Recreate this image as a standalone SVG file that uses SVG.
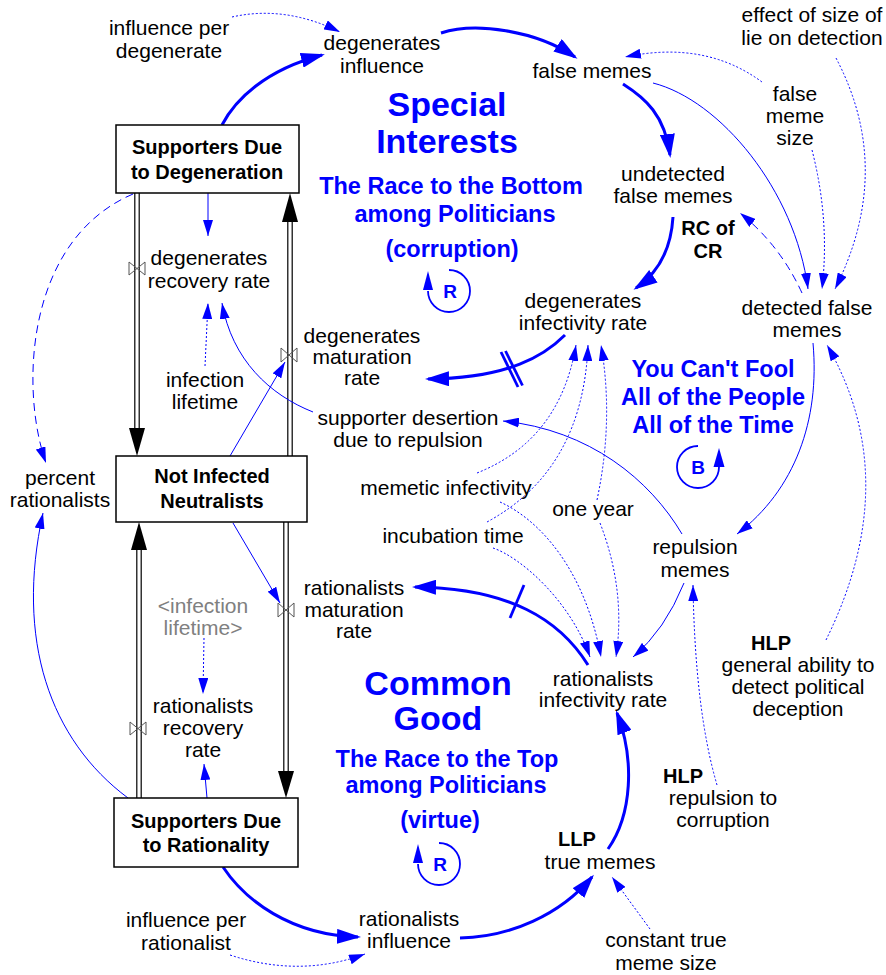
<svg xmlns="http://www.w3.org/2000/svg" width="886" height="975" viewBox="0 0 886 975">
<defs>
<style>
text { font-family: "Liberation Sans", Arial, sans-serif; }
.t { font-size: 21px; fill: #000; text-anchor: middle; }
.g { font-size: 21px; fill: #808080; text-anchor: middle; }
.k { font-size: 20px; font-weight: bold; fill: #000; text-anchor: middle; }
.h1 { font-size: 34px; font-weight: bold; fill: #0000ff; text-anchor: middle; }
.h2 { font-size: 23.5px; font-weight: bold; fill: #0000ff; text-anchor: middle; }
.lp { font-size: 19px; font-weight: bold; fill: #0000ff; text-anchor: middle; }
.stock { fill: #fff; stroke: #000; stroke-width: 1.5; }
.pipeo { fill: none; stroke: #333; stroke-width: 6; }
.pipei { fill: none; stroke: #fff; stroke-width: 3; }
.pa { fill: #000; }
.valve { fill: none; stroke: #555; stroke-width: 1; }
.thick { fill: none; stroke: #0000ff; stroke-width: 3; marker-end: url(#AH); }
.thin { fill: none; stroke: #0000ff; stroke-width: 1; marker-end: url(#ah); }
.dot { stroke-dasharray: 2 2; }
.dash { stroke-dasharray: 8 5; }
.loop { fill: none; stroke: #0000ff; stroke-width: 1.8; }
.la { fill: #0000ff; }
.hash { stroke: #0000ff; stroke-width: 2.8; }
</style>
<marker id="ah" markerUnits="userSpaceOnUse" markerWidth="16" markerHeight="10" refX="16" refY="5" orient="auto" viewBox="0 0 16 10"><path d="M0,0 L16,5 L0,10 z" fill="#0000ff"/></marker>
<marker id="AH" markerUnits="userSpaceOnUse" markerWidth="24" markerHeight="15" refX="21" refY="7.5" orient="auto" viewBox="0 0 24 15"><path d="M0,0 L24,7.5 L0,15 z" fill="#0000ff"/></marker>
</defs>
<rect x="0" y="0" width="886" height="975" fill="#fff"/>

<g id="flows">
  <path class="pipeo" d="M137 193 L137 430"/><path class="pipei" d="M137 193 L137 430"/>
  <polygon class="pa" points="137,456 129,428 145,428"/>
  <path class="pipeo" d="M290 456 L290 220"/><path class="pipei" d="M290 456 L290 220"/>
  <polygon class="pa" points="290,193 282,222 298,222"/>
  <path class="pipeo" d="M139 798 L139 548"/><path class="pipei" d="M139 798 L139 548"/>
  <polygon class="pa" points="139,522 131,550 147,550"/>
  <path class="pipeo" d="M286 522 L286 773"/><path class="pipei" d="M286 522 L286 773"/>
  <polygon class="pa" points="286,798 278,771 294,771"/>
  <path class="valve" d="M129 262 L145 275 L145 262 L129 275 Z"/>
  <path class="valve" d="M281 348 L297 362 L297 348 L281 362 Z"/>
  <path class="valve" d="M130 722 L146 735 L146 722 L130 735 Z"/>
  <path class="valve" d="M278 603 L294 617 L294 603 L278 617 Z"/>
</g>

<g id="connectors">
  <path class="thick" d="M222 125 C235 100 265 70 322 55"/>
  <path class="thick" d="M441 33 C475 22 535 30 575 57"/>
  <path class="thick" d="M623 84 C645 98 665 115 670 155"/>
  <path class="thick" d="M673 217 Q670 265 636 288"/>
  <path class="thick" d="M565 335 C545 355 510 378 428 379"/>
  <line class="hash" x1="501" y1="352" x2="518" y2="387"/>
  <line class="hash" x1="505.5" y1="351" x2="522.5" y2="385.5"/>
  <path class="thick" d="M588 665 C560 620 510 588 415 587"/>
  <line class="hash" x1="510" y1="618" x2="524" y2="585"/>
  <path class="thick" d="M608 849 C632 815 635 760 617 713"/>
  <path class="thick" d="M223 867 C245 900 290 935 358 937"/>
  <path class="thick" d="M460 938 C510 937 560 915 592 877"/>

  <path class="thin" d="M208 193 L208 236"/>
  <path class="thin" d="M313 412 C270 395 232 360 222 303"/>
  <path class="thin" d="M230 456 L285 362"/>
  <path class="thin" d="M233 523 L280 603"/>
  <path class="thin" d="M682 534 C650 480 590 430 503 421"/>
  <path class="thin" d="M813 343 C820 420 795 490 737 534"/>
  <path class="thin" d="M684 583 Q665 630 633 657"/>
  <path class="thin" d="M653 83 C720 100 795 190 808 289"/>
  <path class="thin" d="M128 798 C50 740 15 640 43 513"/>
  <path class="thin" d="M207 798 L204 764"/>

  <path class="thin dash" d="M133 194 C25 240 20 390 46 463"/>
  <path class="thin dash" d="M802 293 Q780 245 740 213"/>

  <path class="thin dot" d="M232 17 Q285 5 340 32"/>
  <path class="thin dot" d="M230 955 Q300 978 365 954"/>
  <path class="thin dot" d="M836 58 Q895 170 835 289"/>
  <path class="thin dot" d="M812 150 Q830 220 822 289"/>
  <path class="thin dot" d="M762 82 Q705 40 625 57"/>
  <path class="thin dot" d="M826 640 Q905 480 827 345"/>
  <path class="thin dot" d="M717 785 Q695 710 693 585"/>
  <path class="thin dot" d="M650 929 L612 877"/>
  <path class="thin dot" d="M477 473 Q560 440 576 345"/>
  <path class="thin dot" d="M487 522 Q583 470 588 345"/>
  <path class="thin dot" d="M597 500 Q614 420 601 345"/>
  <path class="thin dot" d="M500 502 C540 520 585 570 601 657"/>
  <path class="thin dot" d="M493 548 C520 557 570 600 590 657"/>
  <path class="thin dot" d="M600 523 Q626 590 616 657"/>
  <path class="thin dot" d="M205 366 L208 303"/>
  <path class="thin dot" d="M204 638 L203 694"/>
</g>

<g id="supporters-degeneration">
  <rect class="stock" x="116" y="125" width="183" height="68"/>
  <text class="k" x="207" y="154">Supporters Due</text>
  <text class="k" x="207" y="179">to Degeneration</text>
</g>
<g id="not-infected-neutralists">
  <rect class="stock" x="116" y="456" width="191" height="66"/>
  <text class="k" x="212" y="483">Not Infected</text>
  <text class="k" x="212" y="508">Neutralists</text>
</g>
<g id="supporters-rationality">
  <rect class="stock" x="114" y="798" width="184" height="69"/>
  <text class="k" x="206" y="828">Supporters Due</text>
  <text class="k" x="206" y="852">to Rationality</text>
</g>

<g id="influence-per-degenerate"><text class="t" x="169" y="35">influence per</text><text class="t" x="169" y="58">degenerate</text></g>
<g id="degenerates-influence"><text class="t" x="382" y="50">degenerates</text><text class="t" x="382" y="73">influence</text></g>
<g id="false-memes"><text class="t" x="592" y="78">false memes</text></g>
<g id="effect-of-size"><text class="t" x="812" y="22">effect of size of</text><text class="t" x="812" y="45">lie on detection</text></g>
<g id="false-meme-size"><text class="t" x="795" y="101">false</text><text class="t" x="795" y="123">meme</text><text class="t" x="795" y="145">size</text></g>
<g id="undetected-false-memes"><text class="t" x="673" y="181">undetected</text><text class="t" x="673" y="203">false memes</text></g>
<g id="rc-of-cr"><text class="k" x="708" y="235">RC of</text><text class="k" x="708" y="258">CR</text></g>
<g id="degenerates-infectivity-rate"><text class="t" x="583" y="308">degenerates</text><text class="t" x="583" y="330">infectivity rate</text></g>
<g id="detected-false-memes"><text class="t" x="807" y="315">detected false</text><text class="t" x="807" y="337">memes</text></g>
<g id="degenerates-recovery-rate"><text class="t" x="209" y="265">degenerates</text><text class="t" x="209" y="288">recovery rate</text></g>
<g id="degenerates-maturation-rate"><text class="t" x="362" y="343">degenerates</text><text class="t" x="362" y="364">maturation</text><text class="t" x="362" y="385">rate</text></g>
<g id="infection-lifetime"><text class="t" x="205" y="387">infection</text><text class="t" x="205" y="409">lifetime</text></g>
<g id="supporter-desertion"><text class="t" x="408" y="425">supporter desertion</text><text class="t" x="408" y="447">due to repulsion</text></g>
<g id="percent-rationalists"><text class="t" x="60" y="485">percent</text><text class="t" x="60" y="507">rationalists</text></g>
<g id="memetic-infectivity"><text class="t" x="446" y="495">memetic infectivity</text></g>
<g id="one-year"><text class="t" x="593" y="516">one year</text></g>
<g id="incubation-time"><text class="t" x="453" y="543">incubation time</text></g>
<g id="repulsion-memes"><text class="t" x="695" y="554">repulsion</text><text class="t" x="695" y="577">memes</text></g>
<g id="rationalists-maturation-rate"><text class="t" x="354" y="595">rationalists</text><text class="t" x="354" y="617">maturation</text><text class="t" x="354" y="638">rate</text></g>
<g id="infection-lifetime-shadow"><text class="g" x="203" y="613">&lt;infection</text><text class="g" x="203" y="635">lifetime&gt;</text></g>
<g id="rationalists-infectivity-rate"><text class="t" x="603" y="686">rationalists</text><text class="t" x="603" y="707">infectivity rate</text></g>
<g id="hlp-general-ability"><text class="k" x="771" y="650">HLP</text><text class="t" x="798" y="672">general ability to</text><text class="t" x="798" y="694">detect political</text><text class="t" x="798" y="716">deception</text></g>
<g id="rationalists-recovery-rate"><text class="t" x="203" y="713">rationalists</text><text class="t" x="203" y="735">recovery</text><text class="t" x="203" y="757">rate</text></g>
<g id="hlp-repulsion"><text class="k" x="683" y="783">HLP</text><text class="t" x="723" y="805">repulsion to</text><text class="t" x="723" y="827">corruption</text></g>
<g id="llp-true-memes"><text class="k" x="577" y="846">LLP</text><text class="t" x="600" y="869">true memes</text></g>
<g id="constant-true-meme-size"><text class="t" x="666" y="947">constant true</text><text class="t" x="666" y="970">meme size</text></g>
<g id="rationalists-influence"><text class="t" x="409" y="926">rationalists</text><text class="t" x="409" y="948">influence</text></g>
<g id="influence-per-rationalist"><text class="t" x="186" y="927">influence per</text><text class="t" x="186" y="950">rationalist</text></g>

<g id="loop-special-interests">
  <text class="h1" x="447" y="116">Special</text>
  <text class="h1" x="447" y="153">Interests</text>
  <text class="h2" x="451" y="194">The Race to the Bottom</text>
  <text class="h2" x="455" y="222">among Politicians</text>
  <text class="h2" x="452" y="257">(corruption)</text>
  <path class="loop" d="M449 270 A21 21 0 1 1 428 291"/>
  <polygon class="la" points="428,271 423,290 433,290"/>
  <text class="lp" x="450" y="298">R</text>
</g>
<g id="loop-fool">
  <text class="h2" x="713" y="377">You Can't Fool</text>
  <text class="h2" x="713" y="405">All of the People</text>
  <text class="h2" x="713" y="433">All of the Time</text>
  <path class="loop" d="M698 446 A21 21 0 1 0 719 467"/>
  <polygon class="la" points="719,448 713.5,467 724.5,467"/>
  <text class="lp" x="698" y="474">B</text>
</g>
<g id="loop-common-good">
  <text class="h1" x="438" y="695">Common</text>
  <text class="h1" x="438" y="730">Good</text>
  <text class="h2" x="447" y="767">The Race to the Top</text>
  <text class="h2" x="446" y="793">among Politicians</text>
  <text class="h2" x="440" y="828">(virtue)</text>
  <path class="loop" d="M439 843 A21 21 0 1 1 418 864"/>
  <polygon class="la" points="418,844 413,863 423,863"/>
  <text class="lp" x="440" y="871">R</text>
</g>
</svg>
